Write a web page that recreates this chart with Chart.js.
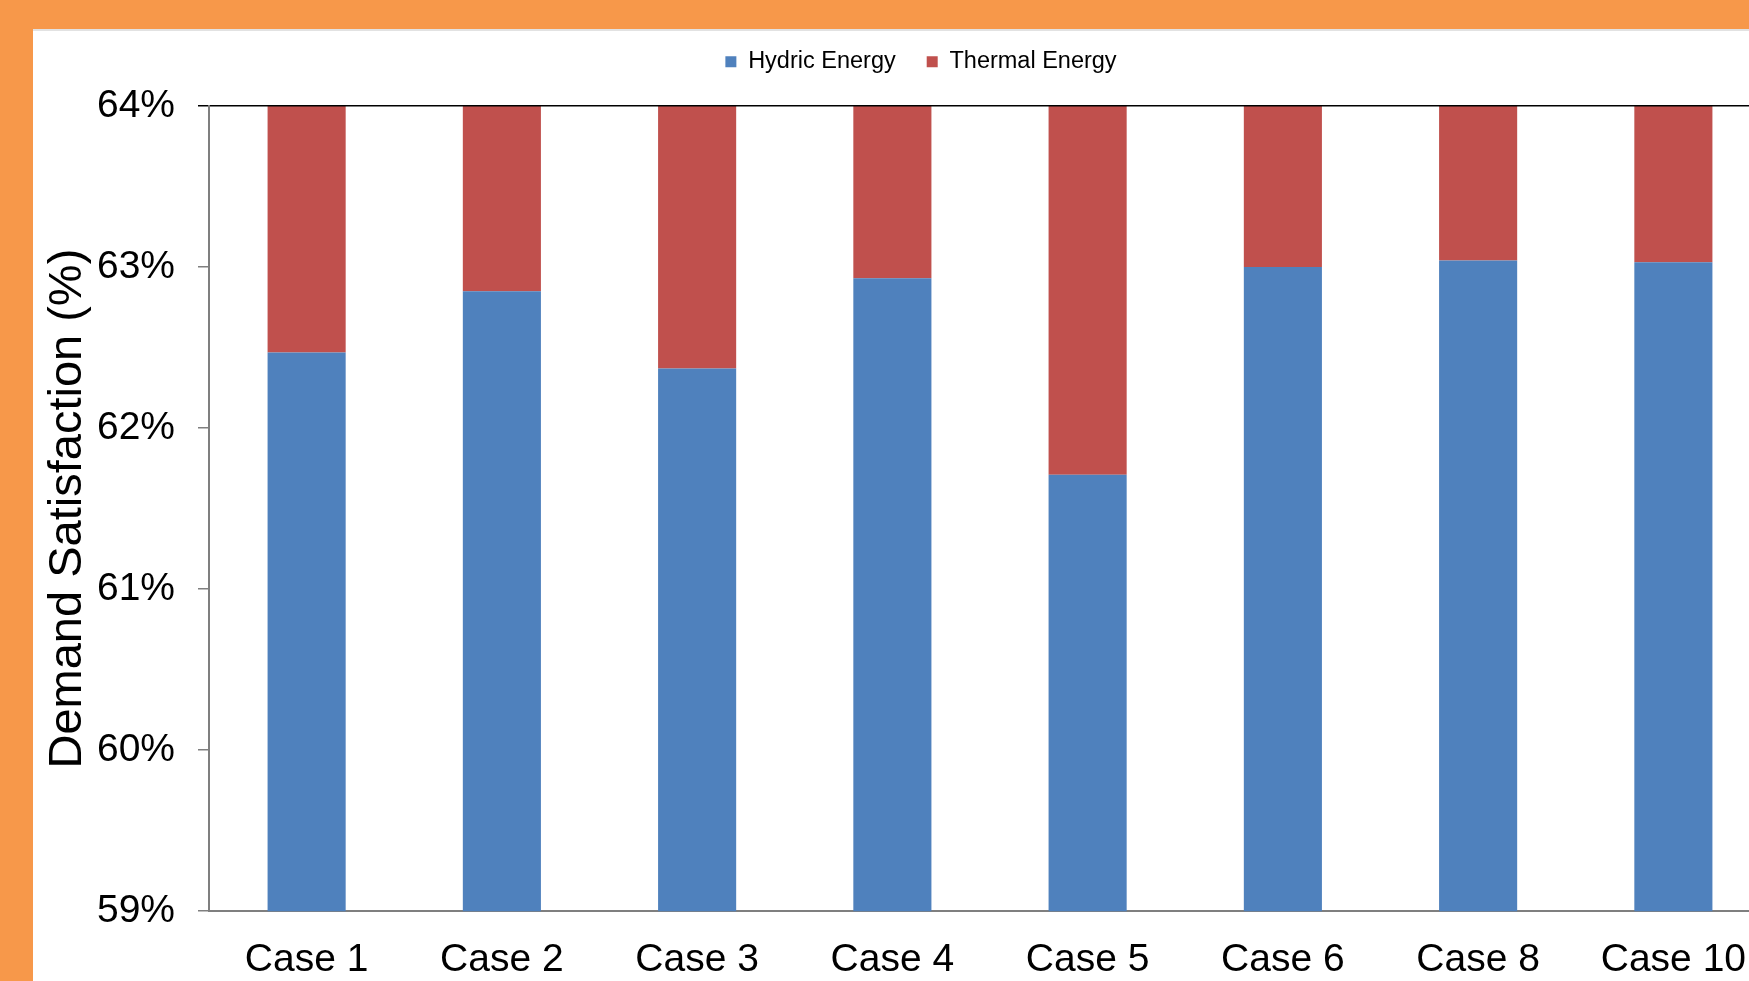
<!DOCTYPE html>
<html>
<head>
<meta charset="utf-8">
<script src="https://cdn.jsdelivr.net/npm/chart.js@4.4.1/dist/chart.umd.min.js"></script>
<style>
  html, body { margin:0; padding:0; width:1749px; height:981px; overflow:hidden; background:#F7984A; }
  #panel { position:absolute; left:33px; top:29px; width:1716px; height:952px; background:#fff; border-top:2px solid #e2e2e2; box-sizing:border-box; }
  #wrap { position:absolute; left:33px; top:25px; width:1767px; height:987px; }
</style>
</head>
<body>
<div id="panel"></div>
<div id="wrap"><canvas id="c"></canvas></div>
<script>
const categories = ['Case 1','Case 2','Case 3','Case 4','Case 5','Case 6','Case 8','Case 10'];
const hydric  = [62.47, 62.85, 62.37, 62.93, 61.71, 63.00, 63.04, 63.03];
const thermal = [1.53, 1.15, 1.63, 1.07, 2.29, 1.00, 0.96, 0.97];
const yTicks = [59, 60, 61, 62, 63, 64];
const seriesNames = ['Hydric Energy', 'Thermal Energy'];

const FONT = "'Liberation Sans', Arial, sans-serif";

const legendPlace = {
  id: 'legendPlace',
  beforeInit(chart) {
    const lg = chart.legend;
    const orig = lg.fit;
    lg.fit = function () { orig.call(this); this.height = 81; };
  },
  afterLayout(chart) {
    const lg = chart.legend;
    lg.top -= 6; lg.bottom -= 6;
    lg.left += 19; lg.right += 19;
  }
};

new Chart(document.getElementById('c'), {
  type: 'bar',
  data: {
    labels: categories,
    datasets: [
      { label: seriesNames[0], data: hydric, backgroundColor: '#4F81BD', borderWidth: 0,
        categoryPercentage: 0.8, barPercentage: 0.5 },
      { label: seriesNames[1], data: thermal, backgroundColor: '#C0504D', borderWidth: 0,
        categoryPercentage: 0.8, barPercentage: 0.5 }
    ]
  },
  plugins: [legendPlace],
  options: {
    responsive: true,
    maintainAspectRatio: false,
    animation: false,
    layout: { padding: { top: 0, left: 0, right: 29, bottom: 2 } },
    plugins: {
      tooltip: { enabled: false },
      legend: {
        position: 'top',
        labels: {
          font: { family: FONT, size: 23.5 },
          color: '#000',
          boxWidth: 11,
          boxHeight: 11,
          padding: 31
        }
      }
    },
    scales: {
      x: {
        stacked: true,
        grid: { display: false, drawTicks: false },
        border: { display: true, color: '#7f7f7f', width: 2 },
        ticks: { font: { family: FONT, size: 39 }, color: '#000', padding: 26, maxRotation: 0 }
      },
      y: {
        stacked: true,
        min: 59, max: 64,
        afterBuildTicks: (s) => { s.ticks = yTicks.map(v => ({ value: v })); },
        afterFit: (s) => { s.width = 176; },
        grid: {
          z: 1,
          drawOnChartArea: true,
          tickLength: 11,
          color: (ctx) => (ctx.tick && ctx.tick.value === 64) ? '#000' : 'rgba(0,0,0,0)',
          tickColor: (ctx) => (ctx.tick && ctx.tick.value === 64) ? '#000' : '#7f7f7f',
          lineWidth: 1.5
        },
        border: { display: true, color: '#7f7f7f', width: 2, z: 2 },
        ticks: {
          font: { family: FONT, size: 39 }, color: '#000', padding: 23,
          callback: (v) => v + '%'
        },
        title: {
          display: true,
          text: 'Demand Satisfaction (%)',
          font: { family: FONT, size: 47 },
          color: '#000',
          padding: { top: 7, bottom: 0 }
        }
      }
    }
  }
});
</script>
</body>
</html>
